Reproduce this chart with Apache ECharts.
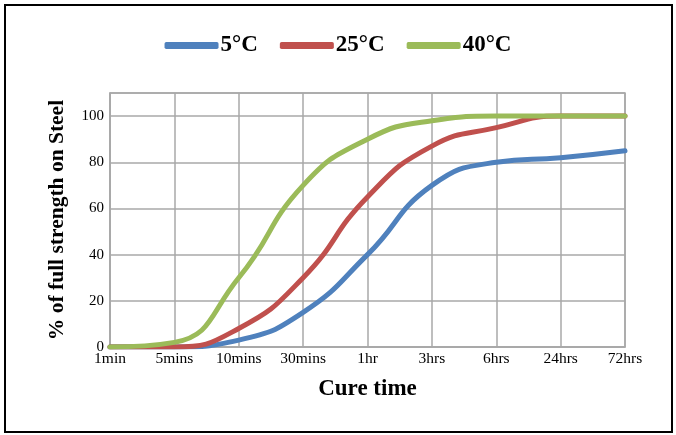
<!DOCTYPE html>
<html>
<head>
<meta charset="utf-8">
<script src="https://cdn.jsdelivr.net/npm/echarts@6/dist/echarts.min.js"></script>
<style>
html,body{margin:0;padding:0;background:#fff;}
#c{width:676px;height:435px;}
</style>
</head>
<body>
<div id="c"></div>
<script>
var categories = ['1min','5mins','10mins','30mins','1hr','3hrs','6hrs','24hrs','72hrs'];
var s5 = [0, 0, 3, 15, 40, 70, 80, 82, 85];
var s25 = [0, 0, 8, 30, 65, 87, 95, 100, 100];
var s40 = [0, 2, 30, 70, 90, 98, 100, 100, 100];
var seriesNames = ['5°C','25°C','40°C'];
var colors = ['#4F81BD','#C0504D','#9BBB59'];
var font = "'Liberation Serif','Times New Roman',serif";

var chart = echarts.init(document.getElementById('c'), null, {renderer:'canvas'});
function mk(name, data, color){
  return {
    name: name, type: 'line', data: data, smooth: 0.5, showSymbol: false,
    symbol: 'none',
    lineStyle: {width: 5, color: color, cap: 'round'},
    itemStyle: {color: color}
  };
}
chart.setOption({
  animation: false,
  color: colors,
  graphic: [{
    type: 'rect', shape: {x: 5, y: 5, width: 667, height: 427},
    style: {fill: 'none', stroke: '#000', lineWidth: 2}, z: 100
  }],
  legend: {
    top: 29, left: 'center',
    itemWidth: 54, itemHeight: 7, itemGap: 22,
    icon: 'roundRect',
    textStyle: {fontFamily: font, fontWeight: 'bold', fontSize: 23, color: '#000', padding: [0,0,0,-3]},
    data: seriesNames
  },
  grid: {left: 110, right: 51, top: 93, bottom: 88, containLabel: false,
    show: true, borderColor: '#A8A8A8', borderWidth: 1.5},
  xAxis: {
    type: 'category', data: categories, boundaryGap: false,
    name: 'Cure time', nameLocation: 'middle', nameGap: 31,
    nameTextStyle: {fontFamily: font, fontWeight: 'bold', fontSize: 23, color: '#000'},
    axisLine: {lineStyle: {color: '#A8A8A8', width: 1.5}},
    axisTick: {show: false},
    axisLabel: {fontFamily: font, fontSize: 15.5, color: '#000', margin: 4},
    splitLine: {show: true, lineStyle: {color: '#A8A8A8', width: 1.5}}
  },
  yAxis: {
    type: 'value', min: 0, max: 110, interval: 20,
    name: '% of full strength on Steel', nameLocation: 'middle', nameGap: 42,
    nameTextStyle: {fontFamily: font, fontWeight: 'bold', fontSize: 21.5, color: '#000'},
    axisLine: {show: true, lineStyle: {color: '#A8A8A8', width: 1.5}},
    axisTick: {show: false},
    axisLabel: {fontFamily: font, fontSize: 15, color: '#000', margin: 6,
      formatter: function(v){ return v > 100 ? '' : String(v); }},
    splitLine: {show: true, lineStyle: {color: '#A8A8A8', width: 1.5}}
  },
  series: [mk(seriesNames[0], s5, colors[0]), mk(seriesNames[1], s25, colors[1]), mk(seriesNames[2], s40, colors[2])]
});
</script>
</body>
</html>
